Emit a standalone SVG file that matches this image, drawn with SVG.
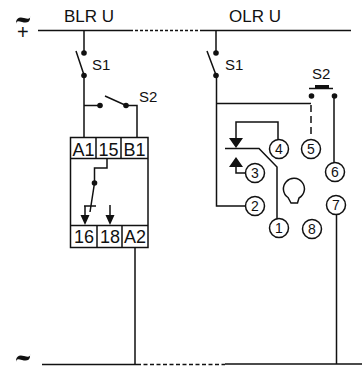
<svg xmlns="http://www.w3.org/2000/svg" width="362" height="367" viewBox="0 0 362 367">
<style>
text{font-family:"Liberation Sans",Arial,sans-serif;fill:#111}
.t{font-size:17px}
.s{font-size:15px}
.b{font-size:18px;text-anchor:middle}
.n{font-size:14px;text-anchor:middle}
.l{fill:none;stroke:#111;stroke-width:1.5}
.c{fill:#fff;stroke:#111;stroke-width:1.5}
.f{fill:#111;stroke:none}
</style>
<rect width="362" height="367" fill="#fff"/>
<g id="labels">
<text class="t" x="64" y="22">BLR U</text>
<text class="t" x="229" y="22">OLR U</text>
<text x="17" y="39" font-size="20">+</text>
<path class="f" d="M16 22q1-6 8-4t6-2v3q-1 5-8 3t-5 2z"/>
<path class="f" d="M16 360q1-6 8-4t6-2v3q-1 5-8 3t-5 2z"/>
</g>
<g id="connectors">
<path class="l" d="M38 30.500H130M200 30.500H351"/>
<path class="l" d="M130 30.500H200" stroke-dasharray="3 2"/>
<path class="l" d="M42 364.500H137M225 364H362"/>
<path class="l" d="M137 364.500H225" stroke-dasharray="4 2.500"/>
<path class="l" d="M84 30V53M76 51L84 75M84 75V137M84 105.500H100M105 96L126 105.500H137V137M135 248V364M336.500 214V364"/>
<path class="l" d="M216 30V53M207 51L216 75M216.500 75V206H245M216.500 103.500H311M334 96V163"/>
<path class="l" d="M311 105V137" stroke-dasharray="7 4"/>
<path class="l" d="M278 140V122H236V140M225 148.500H259L277 167V219M236 165V173H246"/>
<path class="l" d="M309 88.500H333"/>
<path class="f" d="M315 85h14v3h-14zM229 138h14l-7 10zM229 167h14l-7-10z"/>
<g class="f"><circle cx="84" cy="53" r="2.800"/><circle cx="84" cy="75.500" r="2.800"/><circle cx="100" cy="105.500" r="2.800"/><circle cx="126" cy="105.500" r="2.800"/><circle cx="216" cy="53" r="2.800"/><circle cx="216" cy="75.500" r="2.800"/><circle cx="311.500" cy="96" r="2.800"/><circle cx="334.500" cy="96" r="2.800"/></g>
</g>
<g id="relay">
<rect class="l" x="70.500" y="137.500" width="77.500" height="110"/>
<path class="l" d="M70.500 158.500H148M96 137.500V158.500M121 137.500V158.500M70.500 225.500H148M97 225.500V247.500M122 225.500V247.500"/>
<text class="b" x="83.500" y="155.500">A1</text><text class="b" x="108.500" y="155.500">15</text><text class="b" x="134.500" y="155.500">B1</text>
<text class="b" x="84" y="243">16</text><text class="b" x="110" y="243">18</text><text class="b" x="135" y="243">A2</text>
<path class="l" d="M107 158V168H94.500V183L90 212M84 206H96M85 206V216M110 205V216"/>
<circle class="f" cx="94.500" cy="183" r="2.800"/>
<path class="f" d="M80.500 215h9l-4.500 10zM105.500 215h9l-4.500 10z"/>
</g>
<text class="s" x="92" y="70">S1</text>
<text class="s" x="139" y="102">S2</text>
<text class="s" x="225" y="70">S1</text>
<text class="s" x="312" y="79">S2</text>
<g id="p4"><circle class="c" cx="279" cy="149" r="9.500"/><text class="n" x="279" y="154">4</text></g>
<g id="p5"><circle class="c" cx="311" cy="149" r="9.500"/><text class="n" x="311" y="154">5</text></g>
<g id="p3"><circle class="c" cx="255" cy="173" r="9.500"/><text class="n" x="255" y="178">3</text></g>
<g id="p6"><circle class="c" cx="335" cy="172" r="9.500"/><text class="n" x="335" y="177">6</text></g>
<g id="p2"><circle class="c" cx="255" cy="206" r="9.500"/><text class="n" x="255" y="211">2</text></g>
<g id="p7"><circle class="c" cx="336" cy="205" r="9.500"/><text class="n" x="336" y="210">7</text></g>
<g id="p1"><circle class="c" cx="279" cy="228" r="9.500"/><text class="n" x="279" y="233">1</text></g>
<g id="p8"><circle class="c" cx="312" cy="229" r="9.500"/><text class="n" x="312" y="234">8</text></g>
<path id="bulb" class="l" d="M291 203L288 197.500A10.500 10.500 0 1 1 299 198L297.500 203Z"/>
</svg>
